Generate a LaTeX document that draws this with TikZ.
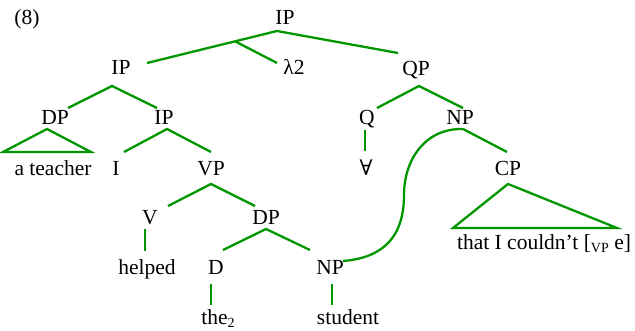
\documentclass[tikz,border=0pt]{standalone}
\usepackage{fontspec}
\setmainfont{Liberation Serif}
\newfontfamily\symfont{DejaVu Serif}
\definecolor{tg}{RGB}{0,150,0}
\begin{document}
\begin{tikzpicture}[x=1pt,y=-1pt,
  br/.style={draw=tg, line width=2.3pt},
  lab/.style={anchor=base, inner sep=0pt, font=\fontsize{21.5}{24}\selectfont}]
\useasboundingbox (0,0) rectangle (635,331);
% labels
\node[lab] (num) at (27,25) {(8)};
\node[lab] (ip0) at (285,25) {IP};
\node[lab] (ip1) at (121,75) {IP};
\node[lab] (lam) at (294,75) {λ2};
\node[lab] (qp) at (416,76) {QP};
\node[lab] (dp1) at (55,125) {DP};
\node[lab] (ip2) at (164,125) {IP};
\node[lab] (q) at (367,125) {Q};
\node[lab] (np1) at (460,125) {NP};
\node[lab] (tea) at (53,176) {a teacher};
\node[lab] (i) at (116,176) {I};
\node[lab] (vp) at (211,176) {VP};
\node[lab] (all) at (366,176) {\symfont ∀};
\node[lab] (cp) at (508,176) {CP};
\node[lab] (v) at (150,225) {V};
\node[lab] (dp2) at (266,225) {DP};
\node[lab] (cl) at (544,250) {that I couldn’t [\raisebox{-0.1em}{\fontsize{14}{14}\selectfont VP} e]};
\node[lab] (hel) at (147,275) {helped};
\node[lab] (d) at (216,275) {D};
\node[lab] (np2) at (330,275) {NP};
\node[lab] (the) at (218,325) {the\raisebox{-0.12em}{\fontsize{14}{14}\selectfont 2}};
\node[lab] (stu) at (348,325) {student};
% branch points
\coordinate (a-ip0) at (277,31);
\coordinate (j-ip0) at (235,41.3);
\coordinate (e-ip1) at (147,63);
\coordinate (e-lam) at (277,63);
\coordinate (e-qp) at (398,53);
\coordinate (a-ip1) at (112,86);
\coordinate (e-dp1) at (68,108);
\coordinate (e-ip2) at (157,108);
\coordinate (a-dp1) at (47,129);
\coordinate (l-dp1) at (3,152);
\coordinate (r-dp1) at (91,152);
\coordinate (a-ip2) at (167,129);
\coordinate (e-i) at (124,152);
\coordinate (e-vp) at (211,152);
\coordinate (a-vp) at (211,184);
\coordinate (e-v) at (168,206);
\coordinate (e-dp2) at (255,206);
\coordinate (a-v) at (145,229);
\coordinate (e-hel) at (145,251);
\coordinate (a-dp2) at (266,229);
\coordinate (e-d) at (223,250);
\coordinate (e-np2) at (310,250);
\coordinate (a-d) at (211,284);
\coordinate (e-the) at (211,305);
\coordinate (a-np2) at (332,284);
\coordinate (e-stu) at (332,305);
\coordinate (m-np2) at (343,261);
\coordinate (a-qp) at (419,86);
\coordinate (e-q) at (377,108);
\coordinate (e-np1) at (463,108);
\coordinate (a-q) at (365,130);
\coordinate (e-all) at (365,151);
\coordinate (a-np1) at (463,129);
\coordinate (e-cp) at (507,152);
\coordinate (mid) at (404,195);
\coordinate (a-cp) at (508,184);
\coordinate (l-cp) at (453,228);
\coordinate (r-cp) at (617,228);
% branches
\draw[br] (e-ip1) -- (a-ip0) -- (e-qp);
\draw[br] (j-ip0) -- (e-lam);
\draw[br] (e-dp1) -- (a-ip1) -- (e-ip2);
\draw[br] (a-dp1) -- (l-dp1) -- (r-dp1) -- cycle;
\draw[br] (e-i) -- (a-ip2) -- (e-vp);
\draw[br] (e-v) -- (a-vp) -- (e-dp2);
\draw[br] (a-v) -- (e-hel);
\draw[br] (e-d) -- (a-dp2) -- (e-np2);
\draw[br] (a-d) -- (e-the);
\draw[br] (a-np2) -- (e-stu);
\draw[br] (e-q) -- (a-qp) -- (e-np1);
\draw[br] (a-q) -- (e-all);
\draw[br] (a-np1) -- (e-cp);
\draw[br] (a-np1) .. controls (425,128) and (404,160) .. (mid)
  .. controls (404,240) and (380,258) .. (m-np2);
\draw[br] (a-cp) -- (l-cp) -- (r-cp) -- cycle;
\end{tikzpicture}
\end{document}
